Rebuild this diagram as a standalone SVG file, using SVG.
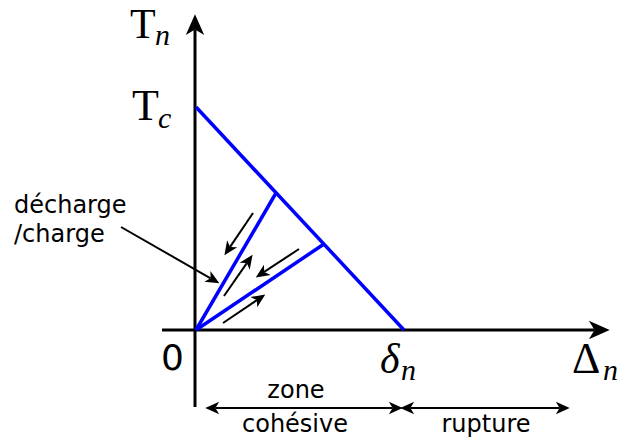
<svg xmlns="http://www.w3.org/2000/svg" width="629" height="439" viewBox="0 0 629 439">
<style>
.ax{stroke:#000;stroke-width:3;fill:none}
.ar{stroke:#000;stroke-width:2;fill:none}
.bl{stroke:#0000ff;stroke-width:3.5;fill:none;stroke-linejoin:miter}
.lab{font-family:"DejaVu Sans",sans-serif;font-size:24px;fill:#000}
.m{font-family:"Liberation Serif",serif;fill:#000}
.mi{font-family:"Liberation Serif",serif;font-style:italic;fill:#000}
</style>
<defs>
<marker id="h" markerWidth="8" markerHeight="8" refX="0" refY="0" viewBox="-2 -3 6 6" orient="auto-start-reverse" overflow="visible">
<path d="M0,0 L-1.4,-2.3 L3.8,0 L-1.4,2.3 Z" fill="#000"/>
</marker>
</defs>
<rect width="629" height="439" fill="#fff"/>
<g id="axes">
<line class="ax" x1="195" y1="407" x2="195" y2="29.5" marker-end="url(#h)"/>
<line class="ax" x1="162" y1="330" x2="594.5" y2="330" marker-end="url(#h)"/>
</g>
<g id="law">
<polyline class="bl" points="196,107 404,330"/>
<line class="bl" x1="196" y1="330" x2="276" y2="193"/>
<line class="bl" x1="196" y1="330" x2="324" y2="244"/>
</g>
<g id="connectors">
<line class="ar" x1="253" y1="213" x2="230.1" y2="246.9" marker-end="url(#h)"/>
<line class="ar" x1="224" y1="296" x2="246.8" y2="263.1" marker-end="url(#h)"/>
<line class="ar" x1="299" y1="249" x2="264.2" y2="271.9" marker-end="url(#h)"/>
<line class="ar" x1="223" y1="323" x2="256.9" y2="300.1" marker-end="url(#h)"/>
<line class="ar" x1="121" y1="227" x2="210.6" y2="278.3" marker-end="url(#h)"/>
<line class="ar" x1="215.4" y1="408" x2="392.6" y2="408" marker-start="url(#h)" marker-end="url(#h)"/>
<line class="ar" x1="410.4" y1="408" x2="559.6" y2="408" marker-start="url(#h)" marker-end="url(#h)"/>
</g>
<g id="label-Tn"><text class="m" x="130" y="38" font-size="42">T</text><text class="mi" x="155" y="45" font-size="30">n</text></g>
<g id="label-Tc"><text class="m" x="132" y="120" font-size="44">T</text><text class="mi" x="158" y="128" font-size="30">c</text></g>
<g id="label-0"><text class="lab" x="161" y="370" style="font-size:36px">0</text></g>
<g id="label-delta"><text class="mi" x="380" y="373" font-size="42">δ</text><text class="mi" x="401" y="380" font-size="30">n</text></g>
<g id="label-Delta"><text class="m" x="572" y="373" font-size="44">Δ</text><text class="mi" x="603" y="380" font-size="30">n</text></g>
<g id="label-decharge"><text class="lab" x="14" y="213">décharge</text><text class="lab" x="14" y="242">/charge</text></g>
<g id="label-zone"><text class="lab" x="296" y="398" text-anchor="middle">zone</text><text class="lab" x="295" y="432" text-anchor="middle">cohésive</text></g>
<g id="label-rupture"><text class="lab" x="486" y="432" text-anchor="middle">rupture</text></g>
</svg>
